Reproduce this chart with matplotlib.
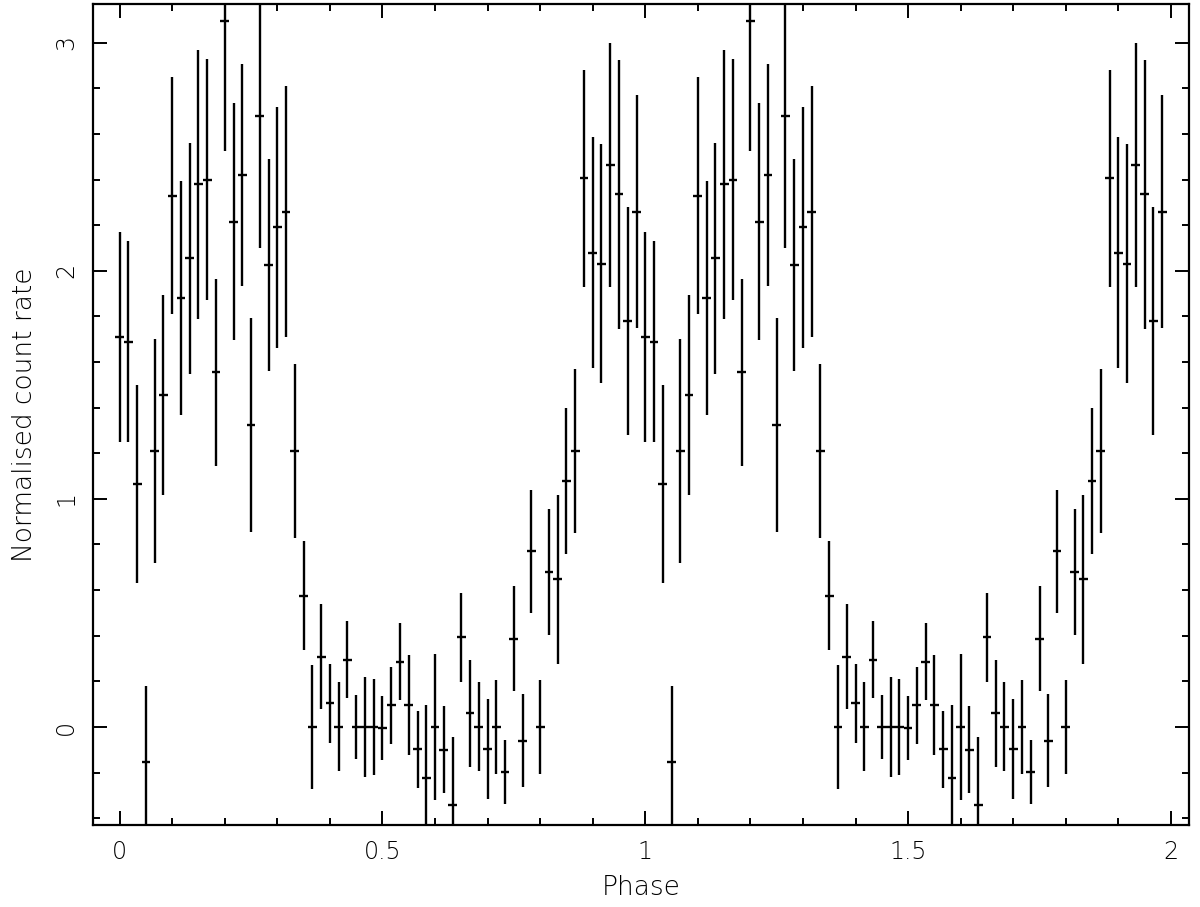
import numpy as np
import matplotlib
matplotlib.use("Agg")
import matplotlib.pyplot as plt
from matplotlib.ticker import MultipleLocator

# Folded light curve: 60 phase bins, shown for two cycles
n_bins = 60
rate = [1.71, 1.69, 1.065, -0.155, 1.21, 1.455, 2.33, 1.88, 2.055, 2.38,
        2.40, 1.555, 3.095, 2.215, 2.42, 1.325, 2.68, 2.025, 2.19, 2.26,
        1.21, 0.576, 0.0, 0.308, 0.103, 0.0, 0.295, 0.0, 0.0, 0.0,
        -0.005, 0.095, 0.286, 0.095, -0.098, -0.223, 0.0, -0.1, -0.343, 0.393,
        0.06, 0.0, -0.097, 0.0, -0.197, 0.387, -0.06, 0.77, 0.0, 0.68,
        0.647, 1.08, 1.21, 2.406, 2.08, 2.03, 2.465, 2.336, 1.778, 2.26]
rate_err = [0.46, 0.44, 0.435, 0.335, 0.49, 0.44, 0.52, 0.513, 0.506, 0.59,
            0.53, 0.41, 0.57, 0.52, 0.485, 0.47, 0.58, 0.465, 0.53, 0.55,
            0.38, 0.24, 0.27, 0.23, 0.175, 0.195, 0.17, 0.14, 0.22, 0.21,
            0.14, 0.17, 0.17, 0.22, 0.17, 0.32, 0.32, 0.19, 0.30, 0.195,
            0.235, 0.195, 0.22, 0.205, 0.14, 0.23, 0.205, 0.27, 0.205, 0.275,
            0.37, 0.32, 0.36, 0.475, 0.505, 0.524, 0.535, 0.59, 0.50, 0.51]
n_cycles = 2

x_label = "Phase"
y_label = "Normalised count rate"

phase_one = np.arange(n_bins) / n_bins
phase = np.concatenate([phase_one + k for k in range(n_cycles)])
y = np.tile(np.asarray(rate), n_cycles)
yerr = np.tile(np.asarray(rate_err), n_cycles)
xerr = 0.5 / n_bins

plt.rcParams['font.family'] = ['DejaVu Sans']
plt.rcParams['font.weight'] = 'light'
plt.rcParams['axes.labelweight'] = 'light'
fig = plt.figure(figsize=(12.0, 9.07), dpi=100)
ax = fig.add_axes([0.0778, 0.0904, 0.9133, 0.9052])

ax.errorbar(phase, y, xerr=xerr, yerr=yerr, fmt='none', ecolor='black',
            elinewidth=1.7, capsize=0)

ax.set_xlim(-0.05, 2.035)
ax.set_ylim(-0.43, 3.17)

ax.xaxis.set_major_locator(MultipleLocator(0.5))
ax.xaxis.set_minor_locator(MultipleLocator(0.1))
ax.yaxis.set_major_locator(MultipleLocator(1))
ax.yaxis.set_minor_locator(MultipleLocator(0.2))
ax.xaxis.set_major_formatter(matplotlib.ticker.FuncFormatter(lambda v, p: f"{v:g}"))

ax.tick_params(which='both', direction='in', top=True, right=True, width=1.4,
               color='black')
ax.tick_params(which='major', length=10)
ax.tick_params(which='minor', length=5)
ax.tick_params(axis='x', which='major', labelsize=17, pad=11)
ax.tick_params(axis='y', which='major', labelsize=17, pad=11)
for lab in ax.get_yticklabels():
    lab.set_rotation(90)
    lab.set_va('center')

for s in ax.spines.values():
    s.set_linewidth(1.6)
    s.set_color('black')

ax.set_xlabel(x_label, fontsize=19, labelpad=8, fontweight='light')
ax.set_ylabel(y_label, fontsize=19, labelpad=12, fontweight='light')

fig.savefig("out.png", dpi=100)
